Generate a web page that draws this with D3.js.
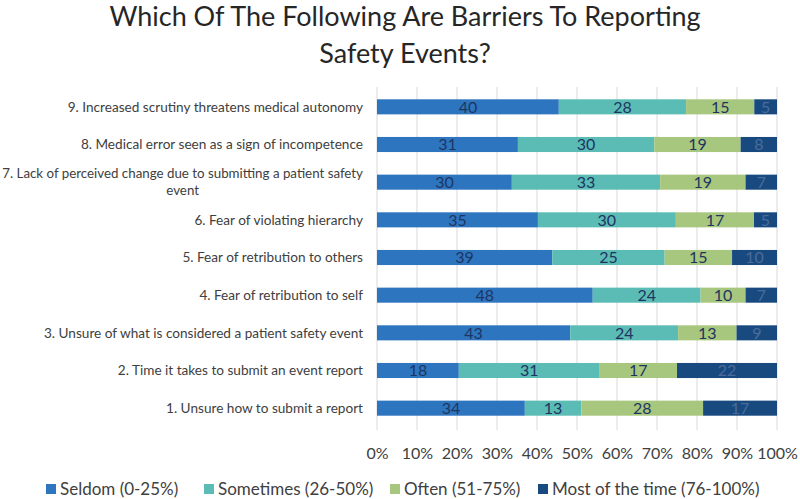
<!DOCTYPE html>
<html><head><meta charset="utf-8">
<script src="https://cdn.jsdelivr.net/npm/d3@7"></script>
<style>body{margin:0;background:#fff}svg{display:block}text{font-family:Lato,"Open Sans",sans-serif}</style>
</head><body>
<script>
const categories = [
  "9. Increased scrutiny threatens medical autonomy",
  "8. Medical error seen as a sign of incompetence",
  "7. Lack of perceived change due to submitting a patient safety event",
  "6. Fear of violating hierarchy",
  "5. Fear of retribution to others",
  "4. Fear of retribution to self",
  "3. Unsure of what is considered a patient safety event",
  "2. Time it takes to submit an event report",
  "1. Unsure how to submit a report"
];
const seriesNames = ["Seldom (0-25%)", "Sometimes (26-50%)", "Often (51-75%)", "Most of the time (76-100%)"];
const seldom    = [40, 31, 30, 35, 39, 48, 43, 18, 34];
const sometimes = [28, 30, 33, 30, 25, 24, 24, 31, 13];
const often     = [15, 19, 19, 17, 15, 10, 13, 17, 28];
const most      = [5, 8, 7, 5, 10, 7, 9, 22, 17];
const tickValues = [0, 0.1, 0.2, 0.3, 0.4, 0.5, 0.6, 0.7, 0.8, 0.9, 1];
const colors = ["#2e75c0", "#5bbcb6", "#a8c77e", "#184a80"];
const titleLines = ["Which Of The Following Are Barriers To Reporting", "Safety Events?"];

const W = 800, H = 499;
const svg = d3.select("body").append("svg").attr("width", W).attr("height", H);

const series = [seldom, sometimes, often, most];
const rows = categories.map((c, i) => {
  const o = {cat: c};
  seriesNames.forEach((s, j) => o[s] = series[j][i]);
  return o;
});
const stacked = d3.stack().keys(seriesNames).offset(d3.stackOffsetExpand)(rows);

const x = d3.scaleLinear().domain([0, 1]).range([377, 777]);
const y = d3.scaleBand().domain(categories).range([88, 427]).paddingInner(0.6).paddingOuter(0.3);

// title
svg.append("g").selectAll("text").data(titleLines).join("text")
  .attr("x", 405).attr("y", (d, i) => 26 + i * 37)
  .attr("text-anchor", "middle").attr("font-size", 27).attr("fill", "#262626")
  .text(d => d);

// grid
svg.append("g").selectAll("line").data(tickValues).join("line")
  .attr("x1", d => x(d)).attr("x2", d => x(d))
  .attr("y1", 87).attr("y2", 430)
  .attr("stroke", "#d9d9d9").attr("stroke-width", 1);

// x axis labels
const xAxis = d3.axisBottom(x).tickValues(tickValues).tickFormat(d3.format(".0%")).tickSize(0).tickPadding(0);
const gx = svg.append("g").attr("transform", "translate(0,459)").call(xAxis);
gx.select(".domain").remove();
gx.selectAll("text").attr("y", 0).attr("dy", 0)
  .attr("font-size", 16).attr("fill", "#404040").attr("font-family", "Lato");

// bars
const layers = svg.append("g").selectAll("g").data(stacked).join("g").attr("fill", (d, i) => colors[i]);
layers.selectAll("rect").data(d => d).join("rect")
  .attr("x", d => x(d[0])).attr("width", d => x(d[1]) - x(d[0]))
  .attr("y", d => y(d.data.cat)).attr("height", y.bandwidth());

// value labels
stacked.forEach((layer, li) => {
  svg.append("g").selectAll("text").data(layer).join("text")
    .attr("x", d => (x(d[0]) + x(d[1])) / 2)
    .attr("y", d => y(d.data.cat) + y.bandwidth() / 2)
    .attr("dy", "0.36em").attr("text-anchor", "middle")
    .attr("font-size", 16).attr("fill", li === 3 ? "#4a6c9c" : "#1d3560")
    .text(d => d.data[layer.key]);
});

// y axis labels with wrapping
const maxW = 372;
const fsCat = 13.6;
const labelRight = 363;
const gy = svg.append("g");
categories.forEach(c => {
  const cy = y(c) + y.bandwidth() / 2;
  const t = gy.append("text").attr("font-size", fsCat).attr("fill", "#404040").attr("text-anchor", "end").attr("x", labelRight);
  t.text(c);
  if (t.node().getComputedTextLength() > maxW) {
    const words = c.split(" ");
    let line1 = [], rest = [];
    for (let k = 0; k < words.length; k++) {
      t.text(line1.concat([words[k]]).join(" "));
      if (t.node().getComputedTextLength() > maxW && line1.length) { rest = words.slice(k); break; }
      line1.push(words[k]);
    }
    t.text(line1.join(" "));
    let w1 = t.node().getComputedTextLength();
    let fs = fsCat;
    if (w1 > labelRight - 2) {
      fs = fsCat * (labelRight - 2) / w1;
      t.attr("font-size", fs);
      w1 = t.node().getComputedTextLength();
    }
    t.attr("y", cy - 4);
    gy.append("text").attr("font-size", fs).attr("fill", "#404040").attr("text-anchor", "middle")
      .attr("x", labelRight - w1 / 2).attr("y", cy + 13).text(rest.join(" "));
  } else {
    t.attr("y", cy).attr("dy", "0.36em");
  }
});

// legend
const legX = [46, 204, 390, 538];
const lg = svg.append("g").selectAll("g").data(seriesNames).join("g")
  .attr("transform", (d, i) => `translate(${legX[i]},495)`);
lg.append("rect").attr("x", 0).attr("y", -11).attr("width", 10).attr("height", 10).attr("fill", (d, i) => colors[i]);
lg.append("text").attr("x", 14).attr("y", 0).attr("font-size", 17).attr("fill", "#404040").text(d => d);
</script>
</body></html>
